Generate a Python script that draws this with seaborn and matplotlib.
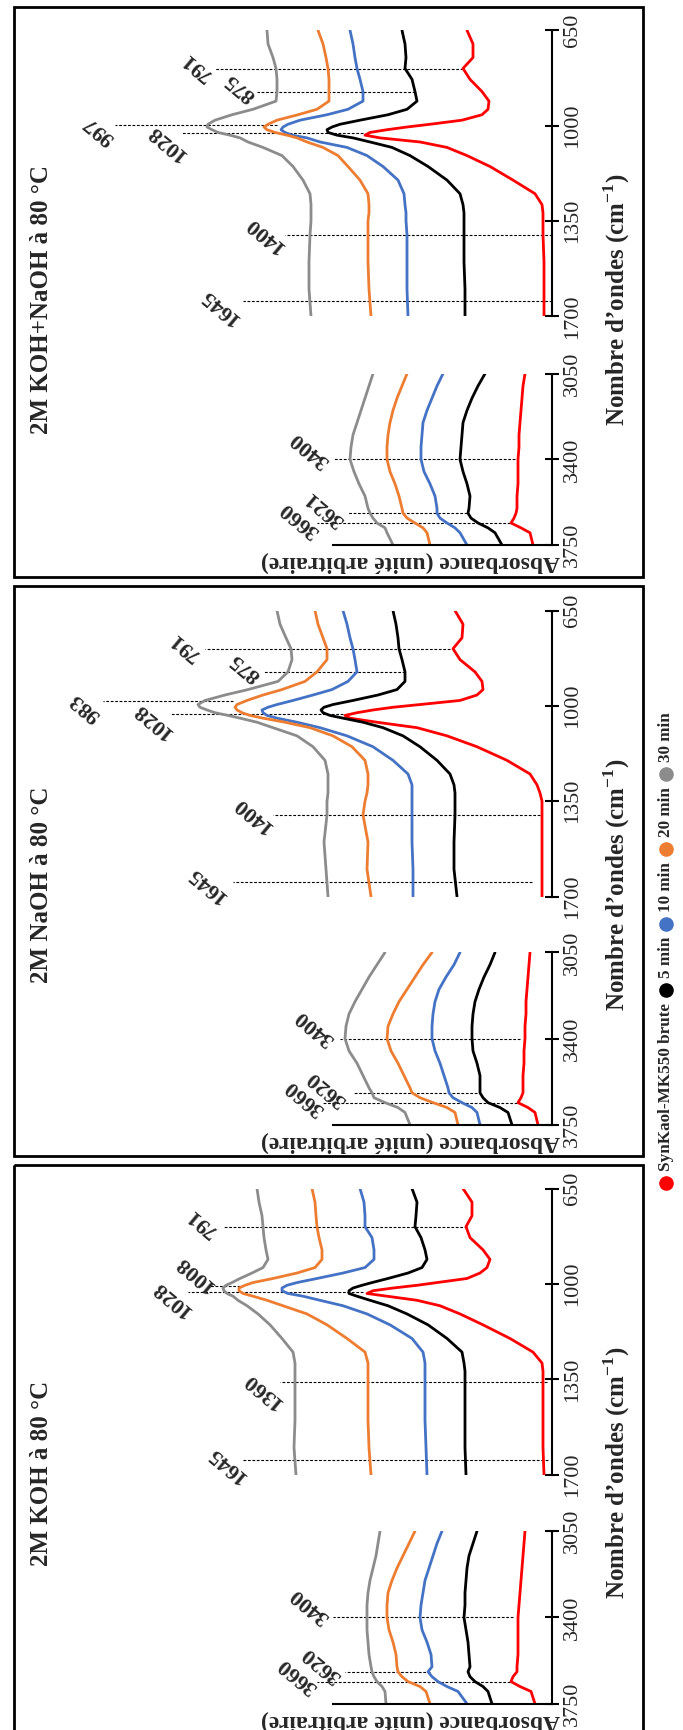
import pandas as pd
import matplotlib
matplotlib.use('Agg')
import matplotlib.pyplot as plt
from matplotlib.patches import Rectangle
import seaborn as sns

sns.set_style('white')
plt.rcParams['font.family'] = ['Liberation Serif', 'DejaVu Serif']
plt.rcParams['mathtext.fontset'] = 'custom'
plt.rcParams['mathtext.rm'] = 'Liberation Serif'
plt.rcParams['mathtext.bf'] = 'Liberation Serif:bold'

series = ['SynKaol-MK550 brute', '5 min', '10 min', '20 min', '30 min']
colors = ['#FF0000', '#000000', '#4472C4', '#ED7D31', '#8C8C8C']
titles = ['2M KOH+NaOH à 80 °C', '2M NaOH à 80 °C', '2M KOH à 80 °C']

low_ticks = [650, 1000, 1350, 1700]
high_ticks = [3050, 3400, 3750]

wn_low = [650, 700, 750, 790, 830, 875, 910, 940, 960, 980, 995, 1005, 1015, 1025, 1035,
          1045, 1060, 1080, 1110, 1150, 1200, 1250, 1290, 1320, 1350, 1400, 1500, 1600, 1700]
wn_high = [3050, 3100, 3150, 3200, 3250, 3300, 3350, 3400, 3450, 3500, 3550, 3600,
           3620, 3640, 3660, 3680, 3700, 3750]

# absorbance (arbitrary units, curves already stacked) -- order: brute, 5, 10, 20, 30 min
kohnaoh_low = [
    [0.85, 0.79, 0.79, 0.89, 0.82, 0.70, 0.63, 0.64, 0.70, 0.90, 1.22, 1.45, 1.65, 1.82, 1.87,
     1.72, 1.32, 1.05, 0.85, 0.62, 0.39, 0.17, 0.10, 0.09, 0.09, 0.09, 0.08, 0.08, 0.08],
    [1.50, 1.47, 1.46, 1.47, 1.40, 1.37, 1.35, 1.45, 1.64, 1.92, 2.12, 2.20, 2.25, 2.24, 2.15,
     1.99, 1.82, 1.60, 1.42, 1.24, 1.05, 0.92, 0.89, 0.88, 0.88, 0.88, 0.88, 0.87, 0.87],
    [2.02, 1.99, 1.97, 1.95, 1.92, 1.89, 1.89, 2.04, 2.25, 2.52, 2.64, 2.69, 2.71, 2.67, 2.60,
     2.45, 2.32, 2.05, 1.85, 1.69, 1.54, 1.48, 1.47, 1.46, 1.46, 1.45, 1.45, 1.45, 1.44],
    [2.34, 2.29, 2.26, 2.24, 2.23, 2.23, 2.23, 2.35, 2.54, 2.75, 2.84, 2.88, 2.85, 2.77, 2.65,
     2.55, 2.45, 2.29, 2.14, 2.04, 1.92, 1.84, 1.83, 1.83, 1.84, 1.84, 1.84, 1.83, 1.81],
    [2.85, 2.84, 2.79, 2.76, 2.75, 2.75, 2.76, 2.99, 3.20, 3.37, 3.44, 3.45, 3.40, 3.34, 3.22,
     3.12, 3.04, 2.89, 2.70, 2.59, 2.49, 2.42, 2.41, 2.41, 2.41, 2.42, 2.43, 2.43, 2.41],
]
kohnaoh_high = [
    [0.27, 0.29, 0.30, 0.31, 0.32, 0.33, 0.33, 0.34, 0.34, 0.34, 0.35, 0.35, 0.36, 0.38, 0.41, 0.31, 0.22, 0.19],
    [0.67, 0.74, 0.80, 0.85, 0.89, 0.90, 0.91, 0.92, 0.89, 0.85, 0.82, 0.83, 0.84, 0.81, 0.74, 0.64, 0.57, 0.50],
    [1.09, 1.15, 1.20, 1.25, 1.29, 1.30, 1.31, 1.31, 1.28, 1.22, 1.17, 1.15, 1.15, 1.12, 1.05, 0.97, 0.92, 0.85],
    [1.45, 1.50, 1.55, 1.59, 1.62, 1.64, 1.65, 1.65, 1.62, 1.57, 1.53, 1.50, 1.49, 1.45, 1.37, 1.29, 1.25, 1.22],
    [1.79, 1.83, 1.87, 1.91, 1.95, 1.99, 2.01, 2.02, 1.98, 1.93, 1.87, 1.84, 1.82, 1.79, 1.75, 1.67, 1.65, 1.59],
]
naoh_low = [
    [0.97, 0.89, 0.90, 0.99, 0.92, 0.77, 0.70, 0.69, 0.75, 0.92, 1.32, 1.59, 1.79, 1.95, 2.07,
     2.02, 1.75, 1.35, 1.05, 0.75, 0.45, 0.22, 0.15, 0.12, 0.10, 0.10, 0.10, 0.10, 0.10],
    [1.59, 1.56, 1.54, 1.53, 1.50, 1.47, 1.47, 1.55, 1.74, 1.99, 2.19, 2.28, 2.31, 2.29, 2.22,
     2.09, 1.89, 1.69, 1.49, 1.32, 1.15, 1.02, 0.98, 0.97, 0.97, 0.97, 0.98, 0.98, 0.95],
    [2.09, 2.05, 2.02, 1.99, 1.97, 1.95, 2.04, 2.20, 2.39, 2.59, 2.75, 2.84, 2.90, 2.89, 2.85,
     2.75, 2.55, 2.32, 2.05, 1.79, 1.59, 1.44, 1.40, 1.40, 1.40, 1.40, 1.40, 1.39, 1.39],
    [2.37, 2.34, 2.29, 2.25, 2.25, 2.35, 2.47, 2.70, 2.89, 3.05, 3.15, 3.17, 3.15, 3.10, 3.02,
     2.89, 2.67, 2.42, 2.19, 2.00, 1.87, 1.84, 1.84, 1.85, 1.87, 1.89, 1.84, 1.85, 1.81],
    [2.75, 2.72, 2.66, 2.61, 2.60, 2.64, 2.74, 3.04, 3.27, 3.47, 3.54, 3.52, 3.45, 3.37, 3.24,
     3.12, 2.95, 2.79, 2.55, 2.39, 2.27, 2.24, 2.24, 2.24, 2.25, 2.25, 2.28, 2.26, 2.24],
]
naoh_high = [
    [0.22, 0.23, 0.24, 0.25, 0.26, 0.26, 0.27, 0.27, 0.28, 0.28, 0.29, 0.29, 0.29, 0.31, 0.34, 0.24, 0.17, 0.14],
    [0.57, 0.62, 0.68, 0.73, 0.77, 0.79, 0.80, 0.80, 0.79, 0.75, 0.72, 0.72, 0.72, 0.69, 0.64, 0.52, 0.44, 0.40],
    [0.92, 0.98, 1.06, 1.13, 1.17, 1.19, 1.20, 1.20, 1.17, 1.12, 1.08, 1.04, 1.03, 0.99, 0.90, 0.80, 0.75, 0.72],
    [1.20, 1.29, 1.37, 1.45, 1.53, 1.59, 1.64, 1.65, 1.61, 1.54, 1.48, 1.42, 1.40, 1.32, 1.19, 1.05, 0.97, 0.94],
    [1.67, 1.75, 1.83, 1.90, 1.97, 2.03, 2.06, 2.07, 2.03, 1.95, 1.89, 1.83, 1.80, 1.78, 1.67, 1.54, 1.47, 1.42],
]
koh_low = [
    [0.89, 0.80, 0.80, 0.86, 0.82, 0.69, 0.62, 0.65, 0.72, 0.85, 1.15, 1.35, 1.59, 1.79, 1.85,
     1.65, 1.35, 1.12, 0.92, 0.69, 0.42, 0.19, 0.10, 0.09, 0.09, 0.09, 0.09, 0.09, 0.08],
    [1.40, 1.35, 1.36, 1.37, 1.31, 1.27, 1.25, 1.30, 1.44, 1.64, 1.80, 1.90, 1.99, 2.03, 2.03,
     1.95, 1.82, 1.64, 1.45, 1.24, 1.05, 0.90, 0.88, 0.87, 0.87, 0.87, 0.87, 0.87, 0.86],
    [1.92, 1.88, 1.87, 1.87, 1.80, 1.78, 1.78, 1.87, 2.09, 2.35, 2.55, 2.65, 2.70, 2.70, 2.64,
     2.49, 2.32, 2.09, 1.85, 1.62, 1.40, 1.29, 1.27, 1.27, 1.27, 1.27, 1.27, 1.26, 1.25],
    [2.40, 2.37, 2.36, 2.35, 2.33, 2.30, 2.30, 2.37, 2.55, 2.79, 2.99, 3.07, 3.13, 3.13, 3.09,
     2.99, 2.85, 2.69, 2.45, 2.25, 2.05, 1.87, 1.84, 1.84, 1.84, 1.84, 1.84, 1.83, 1.81],
    [2.95, 2.93, 2.90, 2.89, 2.88, 2.86, 2.84, 2.89, 3.00, 3.12, 3.20, 3.26, 3.29, 3.28, 3.25,
     3.19, 3.14, 3.05, 2.94, 2.82, 2.70, 2.59, 2.57, 2.57, 2.57, 2.57, 2.57, 2.58, 2.56],
]
koh_high = [
    [0.27, 0.28, 0.29, 0.30, 0.31, 0.32, 0.33, 0.34, 0.34, 0.34, 0.34, 0.35, 0.35, 0.39, 0.41, 0.32, 0.21, 0.17],
    [0.75, 0.79, 0.83, 0.85, 0.86, 0.87, 0.87, 0.88, 0.86, 0.84, 0.83, 0.82, 0.84, 0.82, 0.77, 0.69, 0.64, 0.60],
    [1.10, 1.15, 1.19, 1.23, 1.27, 1.29, 1.31, 1.32, 1.30, 1.25, 1.21, 1.20, 1.24, 1.20, 1.14, 1.05, 0.94, 0.85],
    [1.37, 1.43, 1.49, 1.55, 1.60, 1.64, 1.65, 1.65, 1.63, 1.59, 1.56, 1.55, 1.54, 1.50, 1.44, 1.32, 1.26, 1.22],
    [1.72, 1.74, 1.76, 1.79, 1.82, 1.84, 1.85, 1.85, 1.85, 1.84, 1.83, 1.81, 1.80, 1.78, 1.75, 1.70, 1.67, 1.66],
]

# marked bands (cm-1) for each panel
kohnaoh_bands = [791, 875, 997, 1028, 1400, 1645, 3400, 3621, 3660]
naoh_bands = [791, 875, 983, 1028, 1400, 1645, 3400, 3620, 3660]
koh_bands = [791, 1008, 1028, 1360, 1645, 3400, 3620, 3660]

# dashed-line extent (absorbance from, to) and label centre (absorbance, wavenumber)
kohnaoh_marks = [(3.37, 0.89, 3.55, 780), (2.95, 1.37, 3.12, 858), (4.37, 2.75, 4.53, 1016),
                 (3.70, 1.89, 3.85, 1062), (2.67, 0.0, 2.87, 1401), (3.09, 0.0, 3.32, 1666),
                 (2.19, 0.37, 2.42, 3360), (2.05, 0.85, 2.27, 3602), (2.35, 0.42, 2.52, 3647)]
naoh_marks = [(3.47, 1.02, 3.67, 782), (2.89, 1.47, 3.07, 856), (4.49, 3.19, 4.67, 1004),
              (3.82, 2.09, 3.99, 1053), (2.79, 0.12, 2.99, 1400), (3.19, 0.20, 3.45, 1658),
              (2.12, 0.32, 2.37, 3355), (1.99, 0.75, 2.25, 3603), (2.29, 0.35, 2.47, 3640)]
koh_marks = [(3.29, 0.85, 3.50, 773), (3.42, 3.12, 3.57, 963), (3.64, 1.89, 3.80, 1052),
             (2.72, 0.05, 2.89, 1391), (3.10, 0.04, 3.25, 1662),
             (2.19, 0.39, 2.42, 3350), (2.07, 1.22, 2.30, 3590), (2.35, 0.42, 2.54, 3635)]

panels = [
    (titles[0], kohnaoh_low, kohnaoh_high, kohnaoh_bands, kohnaoh_marks),
    (titles[1], naoh_low, naoh_high, naoh_bands, naoh_marks),
    (titles[2], koh_low, koh_high, koh_bands, koh_marks),
]

# layout in pixels (from the top of the figure)
W, H = 683, 1730
frame_top = [6.7, 585.5, 1164.5]
low_span = [(30.3, 316.3), (610.6, 896.5), (1188.5, 1474.8)]
high_span = [(373.7, 545.0), (952.4, 1124.8), (1531.1, 1703.8)]
label_y = [300, 885, 1473]
spine_x = 552
amax = 5.52

fig = plt.figure(figsize=(W / 100, H / 100), dpi=100)


def px_axes(x0, y0, x1, y1):
    return fig.add_axes([x0 / W, 1 - y1 / H, (x1 - x0) / W, (y1 - y0) / H])


def long_frame(wn, rows):
    recs = []
    for s, vals in zip(series, rows):
        for w, a in zip(wn, vals):
            recs.append({'wn': w, 'A': a, 'serie': s})
    return pd.DataFrame(recs)


def style_axis(ax, ticks, lim):
    ax.set_xlim(amax, 0)
    ax.set_ylim(lim)
    ax.patch.set_visible(False)
    for side in ['top', 'left', 'bottom']:
        ax.spines[side].set_visible(False)
    ax.spines['right'].set_linewidth(1.5)
    ax.spines['right'].set_color('black')
    ax.set_xticks([])
    ax.set_yticks(ticks)
    ax.set_yticklabels([str(t) for t in ticks])
    ax.tick_params(axis='y', left=False, right=True, labelleft=False, labelright=True,
                   direction='inout', length=10, width=1.5, labelsize=16, pad=3,
                   labelrotation=90, color='black')
    for t in ax.get_yticklabels():
        t.set_va('center')
    ax.set_xlabel('')
    ax.set_ylabel('')


for i, (title, low, high, bands, marks) in enumerate(panels):
    ax_lo = px_axes(0, low_span[i][0], spine_x, low_span[i][1])
    ax_hi = px_axes(0, high_span[i][0], spine_x, high_span[i][1])

    sns.lineplot(data=long_frame(wn_low, low), x='A', y='wn', hue='serie', hue_order=series,
                 palette=colors, orient='y', estimator=None, sort=True, lw=2, legend=False, ax=ax_lo)
    sns.lineplot(data=long_frame(wn_high, high), x='A', y='wn', hue='serie', hue_order=series,
                 palette=colors, orient='y', estimator=None, sort=True, lw=2, legend=False, ax=ax_hi)

    style_axis(ax_lo, low_ticks, (1700, 650))
    style_axis(ax_hi, high_ticks, (3750, 3050))
    ax_hi.spines['bottom'].set_visible(True)
    ax_hi.spines['bottom'].set_linewidth(1.5)
    ax_hi.spines['bottom'].set_color('black')
    ax_hi.spines['bottom'].set_bounds(0, 2.19)

    for band, (a0, a1, la, lw_) in zip(bands, marks):
        ax = ax_hi if band > 2000 else ax_lo
        ax.hlines(band, a1, a0, colors='black', linestyles=(0, (2.5, 1.5)), lw=0.8,
                  clip_on=False, zorder=1)
        ax.text(la, lw_, str(band), rotation=140, rotation_mode='anchor', ha='center',
                va='center', fontsize=16, fontweight='bold', clip_on=False)

# overlay in pixel coordinates for frames, titles, axis labels and legend
ov = fig.add_axes([0, 0, 1, 1])
ov.set_xlim(0, W)
ov.set_ylim(H, 0)
ov.axis('off')
ov.patch.set_visible(False)

for i, title in enumerate(titles):
    top = frame_top[i]
    ov.add_patch(Rectangle((14, top), 629, 570, fill=False, ec='black', lw=2, clip_on=False))
    ov.text(42, label_y[i], title, rotation=90, ha='center', va='center',
            fontsize=18, fontweight='bold')
    ov.text(617, label_y[i], 'Nombre d’ondes (cm$^{\\mathbf{-1}}$)', rotation=90,
            ha='center', va='center', fontsize=18, fontweight='bold')
    ov.text(560, high_span[i][1] + 17, 'Absorbance (unité arbitraire)', rotation=180,
            rotation_mode='anchor', ha='left', va='center', fontsize=17, fontweight='bold')

# legend, written bottom to top: dot, label, dot, label ...
renderer = fig.canvas.get_renderer()
leg_x = 666
y = 1183
for s, c in zip(series, colors):
    ov.scatter([leg_x], [y], color=c, s=90, clip_on=False)
    t = ov.text(leg_x, y - 12, s, rotation=90, rotation_mode='anchor', ha='left',
                va='center', fontsize=12.3, fontweight='bold')
    length = t.get_window_extent(renderer).height
    y = y - 12 - length - 13

fig.savefig('out.png', dpi=100)
